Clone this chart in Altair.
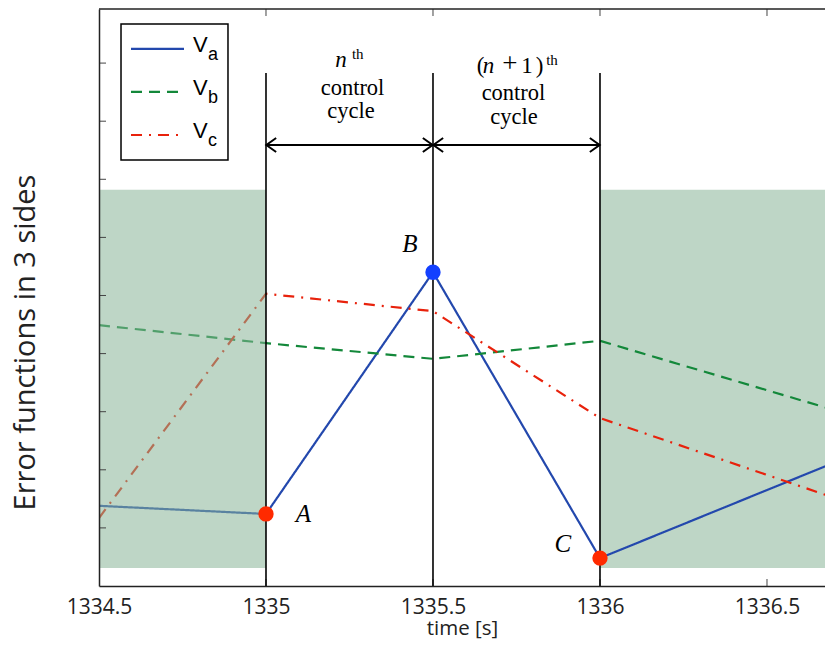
import altair as alt
import pandas as pd

# ---------------- data ----------------
t_vals = [1334.5, 1335.0, 1335.5, 1336.0, 1336.7]
va = [1.38, 1.24, 5.40, 0.48, 2.12]
vb = [4.49, 4.18, 3.91, 4.22, 3.03]
vc = [1.17, 5.03, 4.73, 2.89, 1.52]
series = ["Va", "Vb", "Vc"]
series_colors = ["#2348ad", "#13883a", "#e8220c"]
series_dash = [[1, 0], [11, 7], [11, 7, 2, 7]]

x_ticks = [1334.5, 1335.0, 1335.5, 1336.0, 1336.5]
inner_x_ticks = [1335.0, 1335.5, 1336.0, 1336.5]
y_ticks = [1, 2, 3, 4, 5, 6, 7, 8, 9]

shade_left = [1334.5, 1335.0]
shade_right = [1336.0, 1336.7]
shade_y = [0.31, 6.82]

cycle_bounds = [1335.0, 1335.5, 1336.0]
cycle_top = 8.83
arrow_y = 7.59

pt_t = [1335.0, 1335.5, 1336.0]
pt_v = [1.24, 5.40, 0.48]
pt_col = ["#ff2a00", "#1340ff", "#ff2a00"]
pt_lab = ["A", "B", "C"]
pt_lab_t = [1335.112, 1335.431, 1335.889]
pt_lab_v = [1.10, 5.75, 0.585]

# annotation texts (upright serif, centered)
ann_txt = ["control", "cycle", "control", "cycle"]
ann_t = [1335.259, 1335.2545, 1335.741, 1335.7425]
ann_v = [8.451, 8.06, 8.365, 7.955]
# pieces of the two headers "n^th" and "(n + 1)^th" (centered)
hdr_txt = ["n", "(", "n", "+", "1", ")"]
hdr_style = ["italic", "normal", "italic", "normal", "normal", "normal"]
hdr_size = [23, 23, 23, 27, 23, 23]
hdr_t = [1335.2246, 1335.6422, 1335.6662, 1335.7305, 1335.7814, 1335.8189]
hdr_v = [8.941, 8.838, 8.838, 8.84, 8.838, 8.838]
sup_txt = ["th", "th"]
sup_t = [1335.2746, 1335.8563]
sup_v = [9.071, 8.967]

# legend
leg_box_t = [1334.5659, 1334.8862]
leg_box_v = [7.33, 9.673]
leg_line_t = [1334.5958, 1334.7545]
leg_line_v = [9.243, 8.503, 7.762]
leg_V_t = 1334.7814
leg_V_v = [9.191, 8.451, 7.711]
leg_sub = ["a", "b", "c"]
leg_sub_t = 1334.8263
leg_sub_v = [9.053, 8.313, 7.573]

# ---------------- layout ----------------
W, H = 726, 577
x_dom = [1334.5, 1336.6737]
y_dom = [0, 9.931]

xscale = alt.Scale(domain=x_dom, nice=False, zero=False)
yscale = alt.Scale(domain=y_dom, nice=False, zero=False)
INK = "#222222"

xaxis = alt.Axis(values=x_ticks, format=".1~f", ticks=False, grid=False,
                 domain=True, domainColor=INK, domainWidth=1.5,
                 labelFont="Open Sans", labelFontSize=21, labelColor=INK,
                 labelPadding=10, labelFlush=False, labelOverlap=False,
                 title="time [s]", titleFont="Open Sans", titleFontSize=20.5,
                 titleFontWeight="normal", titleColor=INK,
                 titleY=48, titleBaseline="alphabetic",
                 zindex=1)
yaxis = alt.Axis(labels=False, ticks=False, grid=False, domain=True,
                 domainColor=INK, domainWidth=1.5,
                 title="Error functions in 3 sides", titleFont="Open Sans",
                 titleFontSize=29, titleFontWeight="normal", titleColor=INK,
                 titleX=-74, titleY=333, titleBaseline="middle", titleAngle=270,
                 zindex=1)


def X(f):
    return alt.X(f, type="quantitative", scale=xscale, axis=xaxis)


def Y(f):
    return alt.Y(f, type="quantitative", scale=yscale, axis=yaxis)


color_enc = alt.Color("s:N", scale=alt.Scale(domain=series, range=series_colors), legend=None)
dash_enc = alt.StrokeDash("s:N", scale=alt.Scale(domain=series, range=series_dash), legend=None)

# ---------------- layers ----------------
right_shade = alt.Chart(pd.DataFrame({"t": [shade_right[0]], "t2": [shade_right[1]],
                                      "v": [shade_y[0]], "v2": [shade_y[1]]})).mark_rect(
    color="#bed6c6", clip=True).encode(x=X("t"), x2="t2", y=Y("v"), y2="v2")

df_lines = pd.DataFrame({"t": t_vals * 3, "v": va + vb + vc,
                         "s": ["Va"] * 5 + ["Vb"] * 5 + ["Vc"] * 5})
lines = alt.Chart(df_lines).mark_line(strokeWidth=2.2, clip=True).encode(
    x=X("t"), y=Y("v"), color=color_enc, strokeDash=dash_enc, detail="s:N")

left_shade = alt.Chart(pd.DataFrame({"t": [shade_left[0]], "t2": [shade_left[1]],
                                     "v": [shade_y[0]], "v2": [shade_y[1]]})).mark_rect(
    color="#86b495", opacity=0.54).encode(x=X("t"), x2="t2", y=Y("v"), y2="v2")

df_yt = pd.DataFrame({"v": y_ticks})
df_xt = pd.DataFrame({"t": inner_x_ticks})
tick_style = dict(color="#444444", strokeWidth=1)
ticks_left = alt.Chart(df_yt).mark_rule(**tick_style).encode(
    y=Y("v"), x=alt.value(0), x2=alt.value(7))
ticks_bottom = alt.Chart(df_xt).mark_rule(**tick_style).encode(
    x=X("t"), y=alt.value(H), y2=alt.value(H - 7))
ticks_top = alt.Chart(df_xt).mark_rule(**tick_style).encode(
    x=X("t"), y=alt.value(0), y2=alt.value(7))
top_border = alt.Chart(pd.DataFrame({"a": [0]})).mark_rule(color=INK, strokeWidth=1.5).encode(
    x=alt.value(0), x2=alt.value(W), y=alt.value(0))

vlines = alt.Chart(pd.DataFrame({"t": cycle_bounds, "v": [cycle_top] * 3, "v2": [0] * 3})).mark_rule(
    color="black", strokeWidth=1.6).encode(x=X("t"), y=Y("v"), y2="v2")

arrows = alt.Chart(pd.DataFrame({"t": cycle_bounds[:2], "t2": cycle_bounds[1:],
                                 "v": [arrow_y] * 2})).mark_rule(
    color="black", strokeWidth=2).encode(x=X("t"), x2="t2", y=Y("v"))
head_l = alt.Chart(pd.DataFrame({"t": cycle_bounds[:2], "v": [arrow_y] * 2})).mark_point(
    shape="M 1.45 -1 L 0.05 0 L 1.45 1", filled=False, size=196, strokeWidth=2,
    color="black", opacity=1).encode(x=X("t"), y=Y("v"))
head_r = alt.Chart(pd.DataFrame({"t": cycle_bounds[1:], "v": [arrow_y] * 2})).mark_point(
    shape="M -1.45 -1 L -0.05 0 L -1.45 1", filled=False, size=196, strokeWidth=2,
    color="black", opacity=1).encode(x=X("t"), y=Y("v"))

# legend
leg_box = alt.Chart(pd.DataFrame({"t": [leg_box_t[0]], "t2": [leg_box_t[1]],
                                  "v": [leg_box_v[0]], "v2": [leg_box_v[1]]})).mark_rect(
    fill="white", stroke="black", strokeWidth=1.5).encode(x=X("t"), x2="t2", y=Y("v"), y2="v2")
leg_lines = alt.Chart(pd.DataFrame({"t": [leg_line_t[0]] * 3, "t2": [leg_line_t[1]] * 3,
                                    "v": leg_line_v, "s": series})).mark_rule(strokeWidth=2.2).encode(
    x=X("t"), x2="t2", y=Y("v"), color=color_enc, strokeDash=dash_enc)
leg_V = alt.Chart(pd.DataFrame({"t": [leg_V_t] * 3, "v": leg_V_v, "txt": ["V"] * 3})).mark_text(
    font="Liberation Sans", fontSize=22, align="left", baseline="alphabetic", color="black").encode(
    x=X("t"), y=Y("v"), text="txt:N")
leg_S = alt.Chart(pd.DataFrame({"t": [leg_sub_t] * 3, "v": leg_sub_v, "txt": leg_sub})).mark_text(
    font="Liberation Sans", fontSize=18, align="left", baseline="alphabetic", color="black").encode(
    x=X("t"), y=Y("v"), text="txt:N")

# points and labels
points = alt.Chart(pd.DataFrame({"t": pt_t, "v": pt_v, "c": pt_col})).mark_circle(
    size=235, opacity=1).encode(x=X("t"), y=Y("v"), color=alt.Color("c:N", scale=None))
pt_labels = alt.Chart(pd.DataFrame({"t": pt_lab_t, "v": pt_lab_v, "txt": pt_lab})).mark_text(
    font="Liberation Serif", fontStyle="italic", fontSize=25, align="center",
    baseline="alphabetic", color="black").encode(x=X("t"), y=Y("v"), text="txt:N")

ann = alt.Chart(pd.DataFrame({"t": ann_t, "v": ann_v, "txt": ann_txt})).mark_text(
    font="Liberation Serif", fontSize=22.5, align="center", baseline="alphabetic",
    color="black").encode(x=X("t"), y=Y("v"), text="txt:N")

hdr_layers = []
for txt, sty, fs, tt, vv in zip(hdr_txt, hdr_style, hdr_size, hdr_t, hdr_v):
    hdr_layers.append(alt.Chart(pd.DataFrame({"t": [tt], "v": [vv], "txt": [txt]})).mark_text(
        font="Liberation Serif", fontStyle=sty, fontSize=fs, align="center",
        baseline="alphabetic", color="black").encode(x=X("t"), y=Y("v"), text="txt:N"))
sup = alt.Chart(pd.DataFrame({"t": sup_t, "v": sup_v, "txt": sup_txt})).mark_text(
    font="Liberation Serif", fontSize=15, align="center", baseline="alphabetic",
    color="black").encode(x=X("t"), y=Y("v"), text="txt:N")

chart = alt.layer(
    right_shade, lines, left_shade,
    ticks_left, ticks_bottom, ticks_top, top_border,
    vlines, arrows, head_l, head_r,
    leg_box, leg_lines, leg_V, leg_S,
    points, pt_labels, ann, *hdr_layers, sup,
).properties(
    width=W, height=H,
    autosize=alt.AutoSizeParams(type="none"),
    padding={"left": 91, "top": 1, "right": 0, "bottom": 53},
).configure_view(stroke=None)

chart.save("out.html", embed_options={"renderer": "svg", "actions": False})
